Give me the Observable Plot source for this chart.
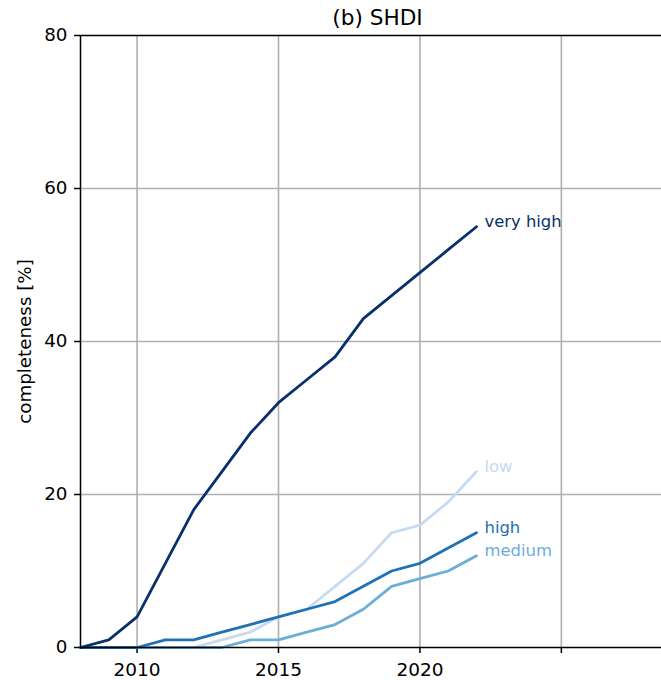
<!DOCTYPE html>
<html><head><meta charset="utf-8">
<script src="https://cdn.jsdelivr.net/npm/d3@7"></script>
<script src="https://cdn.jsdelivr.net/npm/@observablehq/plot@0.6"></script>
<style>html,body{margin:0;padding:0;background:#fff;overflow:hidden;}</style>
</head><body><div id="chart"></div>
<script>
const years = [2008,2009,2010,2011,2012,2013,2014,2015,2016,2017,2018,2019,2020,2021,2022];
const veryHigh = [0,1,4,11,18,23,28,32,35,38,43,46,49,52,55];
const high     = [0,0,0,1,1,2,3,4,5,6,8,10,11,13,15];
const medium   = [0,0,0,0,0,0,1,1,2,3,5,8,9,10,12];
const low      = [0,0,0,0,0,1,2,4,5,8,11,15,16,19,23];
const seriesNames = ["low","medium","high","very high"];
const seriesValues = [low, medium, high, veryHigh];
const seriesColors = ["#c6dbef","#6baed6","#2171b5","#08306b"];
const xTicks = [2010,2015,2020,2025];
const xTickLabels = ["2010","2015","2020",""];
const yTicks = [0,20,40,60,80];
const title = "(b) SHDI";
const yLabel = "completeness [%]";

const rows = [];
seriesNames.forEach((n,i)=> years.forEach((yr,j)=> rows.push({series:n, year:yr, value:seriesValues[i][j]})));
const last = seriesNames.map((n,i)=>({series:n, year:years[years.length-1], value:seriesValues[i][years.length-1]}));

const chart = Plot.plot({
  width: 674, height: 680,
  marginLeft: 80, marginRight: 0, marginTop: 35, marginBottom: 33,
  style: {fontFamily: "'DejaVu Sans', sans-serif", fontSize: "18px", color: "black", background: "white", maxWidth: "none", overflow: "visible"},
  x: {domain: [2008, 2029]},
  y: {domain: [0, 80]},
  color: {domain: seriesNames, range: seriesColors},
  marks: [
    Plot.gridX(xTicks, {stroke: "#b0b0b0", strokeOpacity: 1, strokeWidth: 1.6}),
    Plot.gridY([20,40,60], {stroke: "#b0b0b0", strokeOpacity: 1, strokeWidth: 1.6}),
    Plot.axisX({ticks: xTicks, tickFormat: d => xTickLabels[xTicks.indexOf(d)], tickSize: 6, tickPadding: 9, label: null, fontSize: 18.5, strokeWidth: 1.5}),
    Plot.axisY({ticks: yTicks, tickSize: 6, tickPadding: 7, label: yLabel, labelAnchor: "center", labelArrow: "none", labelOffset: 63, fontSize: 18.3, strokeWidth: 1.5}),
    Plot.line(rows, {x: "year", y: "value", stroke: "series", z: "series", strokeWidth: 2.8}),
    Plot.text(last, {x: "year", y: "value", text: "series", fill: "series", textAnchor: "start", dx: 8, dy: -5, fontSize: 16.4}),
    Plot.text([title], {text: d => d, frameAnchor: "top", lineAnchor: "middle", dy: -17, fontSize: 21.6}),
    Plot.frame({stroke: "black", strokeWidth: 1.5})
  ]
});
document.getElementById("chart").appendChild(chart);
</script>
</body></html>
